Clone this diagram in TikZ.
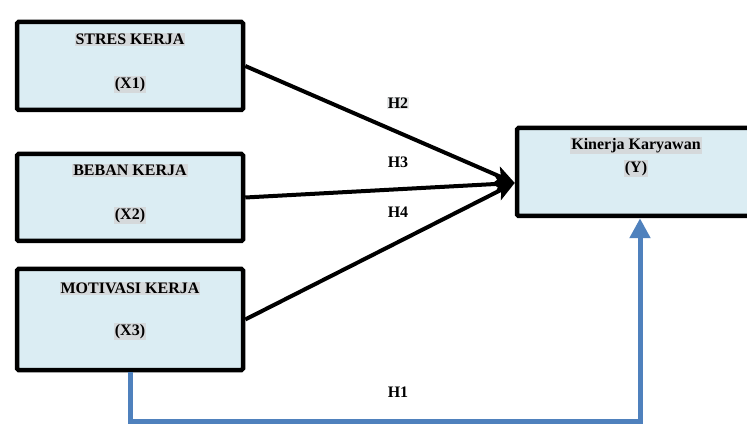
\documentclass[tikz,border=0pt]{standalone}
\usepackage{fontspec}
\setmainfont{Liberation Serif}
\usetikzlibrary{positioning}
\usetikzlibrary{arrows.meta}
\usetikzlibrary{calc}
\definecolor{boxfill}{HTML}{DBEDF3}
\definecolor{hlgray}{HTML}{D5D9DB}
\definecolor{linkblue}{HTML}{4F81BD}

\begin{document}
\begin{tikzpicture}[x=1pt, y=1pt,
  varbox/.style={draw, line width=4.5pt, rounded corners=1.5pt, fill=boxfill, inner sep=0pt},
  vartext/.style={fill=hlgray, inner sep=1pt, font=\fontsize{16}{19}\selectfont\bfseries},
  hyptext/.style={inner sep=1pt, font=\fontsize{16}{19}\selectfont\bfseries},
  hyparrow/.style={line width=4pt, -{Stealth[length=20pt,width=18pt,inset=5pt]}},
  bluearrow/.style={line width=5pt, linkblue, -{Triangle[length=20pt,width=20pt]}}]
  \useasboundingbox (0,0) rectangle (747,426);

  % Variable boxes
  \node[varbox, minimum width=226pt, minimum height=88pt] (x1) at (130,360) {};
  \node[varbox, minimum width=226pt, minimum height=87pt] (x2) at (130,228.5) {};
  \node[varbox, minimum width=226pt, minimum height=101pt] (x3) at (130,106.5) {};
  \node[varbox, minimum width=246pt, minimum height=88pt] (y) at (640,254) {};

  % Box texts
  \node[vartext] (x1name) at ($(x1.north)+(0,-20)$) {STRES KERJA};
  \node[vartext] (x1code) at ($(x1.north)+(0,-65)$) {(X1)};
  \node[vartext] (x2name) at ($(x2.north)+(0,-19)$) {BEBAN KERJA};
  \node[vartext] (x2code) at ($(x2.north)+(0,-64)$) {(X2)};
  \node[vartext] (x3name) at ($(x3.north)+(0,-22)$) {MOTIVASI KERJA};
  \node[vartext] (x3code) at ($(x3.north)+(0,-65)$) {(X3)};
  \node[vartext] (yname) at ($(y.north)+(-4,-20)$) {Kinerja Karyawan};
  \node[vartext] (ycode) at ($(y.north)+(-4,-43)$) {(Y)};

  % Hypotheses
  \node[hyptext, fill=hlgray!60] (h2) at (398,323) {H2};
  \node[hyptext] (h3) at (398,264) {H3};
  \node[hyptext] (h4) at (398,214) {H4};
  \node[hyptext] (h1) at (398,34) {H1};

  % Arrows
  \draw[hyparrow] (x1.east) -- (y.185);
  \draw[hyparrow] (x2.east) -- (y.185);
  \draw[hyparrow] (x3.east) -- (y.185);

  \coordinate (h1turn) at (130,5);
  \draw[bluearrow] (x3.south) -- (h1turn) -| (y.south);
\end{tikzpicture}
\end{document}
